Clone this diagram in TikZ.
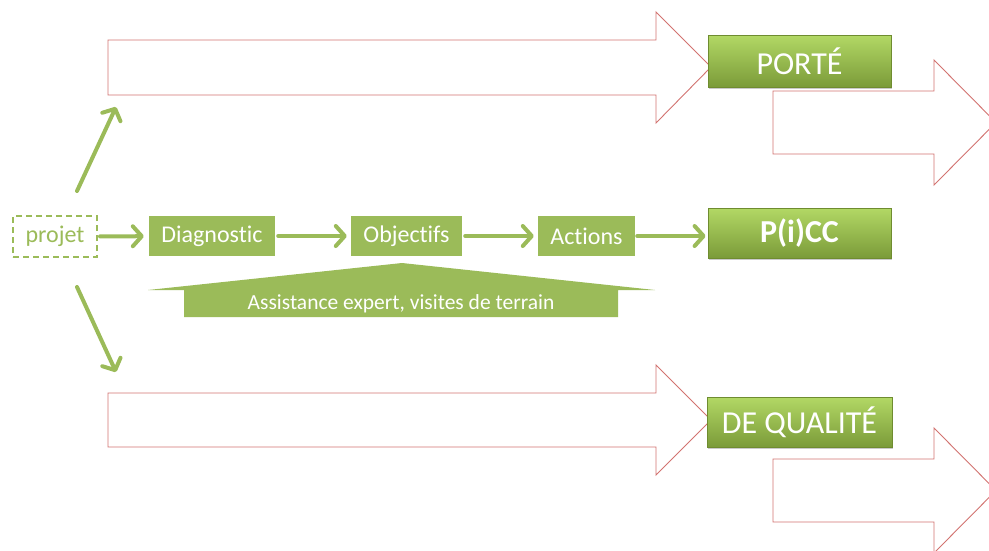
\documentclass[tikz,border=0pt]{standalone}
\usepackage{fontspec}
\setmainfont{Carlito}[Ligatures={NoCommon,NoContextual}]
\usetikzlibrary{arrows.meta,shadows}
\definecolor{og}{HTML}{9BBB59}
\definecolor{gtop}{HTML}{B2D865}
\definecolor{gbot}{HTML}{7B9B39}
\definecolor{gedge}{HTML}{6F8C30}
\definecolor{rline}{HTML}{D27370}
\tikzset{
  bigarrow/.style={draw=rline, line width=0.9pt, fill=white, line join=miter},
  flat/.style={fill=og, text=white, inner sep=0pt, font=\fontsize{24}{28}\selectfont},
  glossy/.style={draw=gedge, line width=0.8pt, top color=gtop, bottom color=gbot, text=white,
    inner sep=0pt, minimum width=183pt, font=\fontsize{32}{36}\selectfont,
    drop shadow={shadow xshift=1pt, shadow yshift=-2pt, opacity=0.35, fill=black!60}},
  conn/.style={draw=og, line width=4pt, line cap=round,
    -{Straight Barb[length=9pt, width=20pt, line width=4pt, round]}},
}
\begin{document}
\begin{tikzpicture}[x=1pt, y=-1pt]
\useasboundingbox (0,0) rectangle (989,550);
\clip (0,0) rectangle (989,550);
% big outline arrows
\path[bigarrow] (108,40) -- (656,40) -- (656,12) -- (711,67) -- (656,123) -- (656,95) -- (108,95) -- cycle;
\path[bigarrow] (108,393) -- (656,393) -- (656,365) -- (711,420) -- (656,475) -- (656,447) -- (108,447) -- cycle;
\path[bigarrow] (773,91) -- (934,91) -- (934,60) -- (996,122.5) -- (934,185) -- (934,154) -- (773,154) -- cycle;
\path[bigarrow] (773,459) -- (934,459) -- (934,428) -- (996,490.5) -- (934,553) -- (934,522) -- (773,522) -- cycle;
% glossy result boxes
\node[glossy, minimum height=52pt] (porte) at (799.5,61) {PORTÉ};
\node[glossy, minimum height=50pt, font=\fontsize{32}{36}\selectfont\bfseries] (picc) at (799.5,233) {P(i)CC};
\node[glossy, minimum height=50pt, minimum width=185pt] (qual) at (799.5,422) {DE QUALITÉ};
% process row
\node[draw=og, dashed, dash pattern=on 6pt off 4pt, line width=2pt, text=og, inner sep=0pt,
  minimum width=84pt, minimum height=41pt, font=\fontsize{24}{28}\selectfont] (projet) at (55,236.5) {projet};
\node[flat, minimum width=126pt, minimum height=40pt] (diag) at (212,236) {Diagnostic};
\node[flat, minimum width=111pt, minimum height=40pt] (obj) at (406.5,236) {Objectifs};
\node[flat, minimum width=97pt, minimum height=40pt] (act) at (586.5,236) {Actions};
% assistance shape
\fill[og] (148,290) -- (402,263) -- (655,290) -- (618,290) -- (618,317) -- (184,317) -- (184,290) -- cycle;
\node[text=white, font=\fontsize{21.5}{24}\selectfont, inner sep=0pt] (assist) at (401,303.5) {Assistance expert, visites de terrain};
% connectors
\draw[conn, shorten <=2pt, shorten >=5pt] (projet) -- (diag);
\draw[conn, shorten <=3pt, shorten >=4pt] (diag) -- (obj);
\draw[conn, shorten <=3pt, shorten >=4pt] (obj) -- (act);
\draw[conn, shorten <=2pt, shorten >=2pt] (act.east) -- (picc.west |- act.east);
\coordinate (u1) at (77,191);
\coordinate (u2) at (116,107);
\coordinate (d1) at (77,287);
\coordinate (d2) at (116,372);
\draw[conn] (u1) -- (u2);
\draw[conn] (d1) -- (d2);
\end{tikzpicture}
\end{document}
